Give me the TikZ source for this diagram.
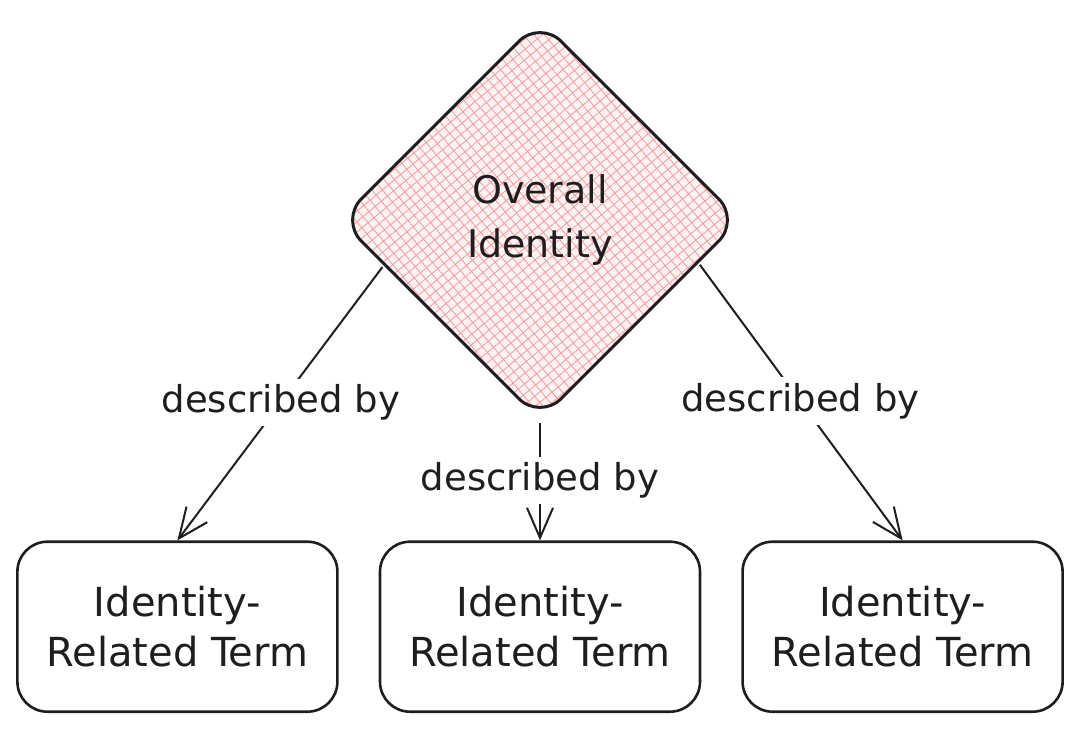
\documentclass[tikz,border=0pt]{standalone}
\usepackage{fontspec}
\setmainfont{DejaVu Sans}
\usetikzlibrary{arrows.meta,shapes.geometric,positioning,patterns.meta}
\definecolor{ink}{HTML}{1E1E1E}
\definecolor{hatch}{HTML}{F29A9A}

\begin{document}
\begin{tikzpicture}[x=1pt, y=-1pt,
			dia/.style  = {diamond, draw=ink, line width=3pt, rounded corners=30pt, minimum size=400pt,
				inner sep=0pt, align=center, text=ink, font=\fontsize{38}{54}\selectfont,
				preaction={fill=red!5},
				preaction={pattern={Lines[angle=40, distance=8pt, line width=0.8pt]}, pattern color=hatch},
				pattern={Lines[angle=-50, distance=8pt, line width=0.8pt]}, pattern color=hatch},
			term/.style = {draw=ink, line width=2.6pt, rounded corners=30pt, minimum width=320pt,
				minimum height=170pt, align=center, text=ink, font=\fontsize{40}{50}\selectfont},
			link/.style = {-{Straight Barb[length=30pt, width=26pt]}, draw=ink, line width=2pt, shorten <=3pt},
			lbl/.style  = {fill=white, text=ink, inner sep=6pt, font=\fontsize{37}{42}\selectfont},
			>=latex]
			
			\useasboundingbox (0,0) rectangle (1080,730);
			
			\node[dia] (dia) at (540,220) {Overall\\Identity};
			
			\node[term, below=120pt of dia] (t2) {Identity-\\Related Term};
			\node[term, left=40pt of t2] (t1) {Identity-\\Related Term};
			\node[term, right=40pt of t2] (t3) {Identity-\\Related Term};
			
			\foreach \value/\ang in {1/196, 2/270, 3/345}
			\draw[link] (dia.\ang) -- node[lbl, pos=0.5] {described by} (t\value.north);
		\end{tikzpicture}
\end{document}
